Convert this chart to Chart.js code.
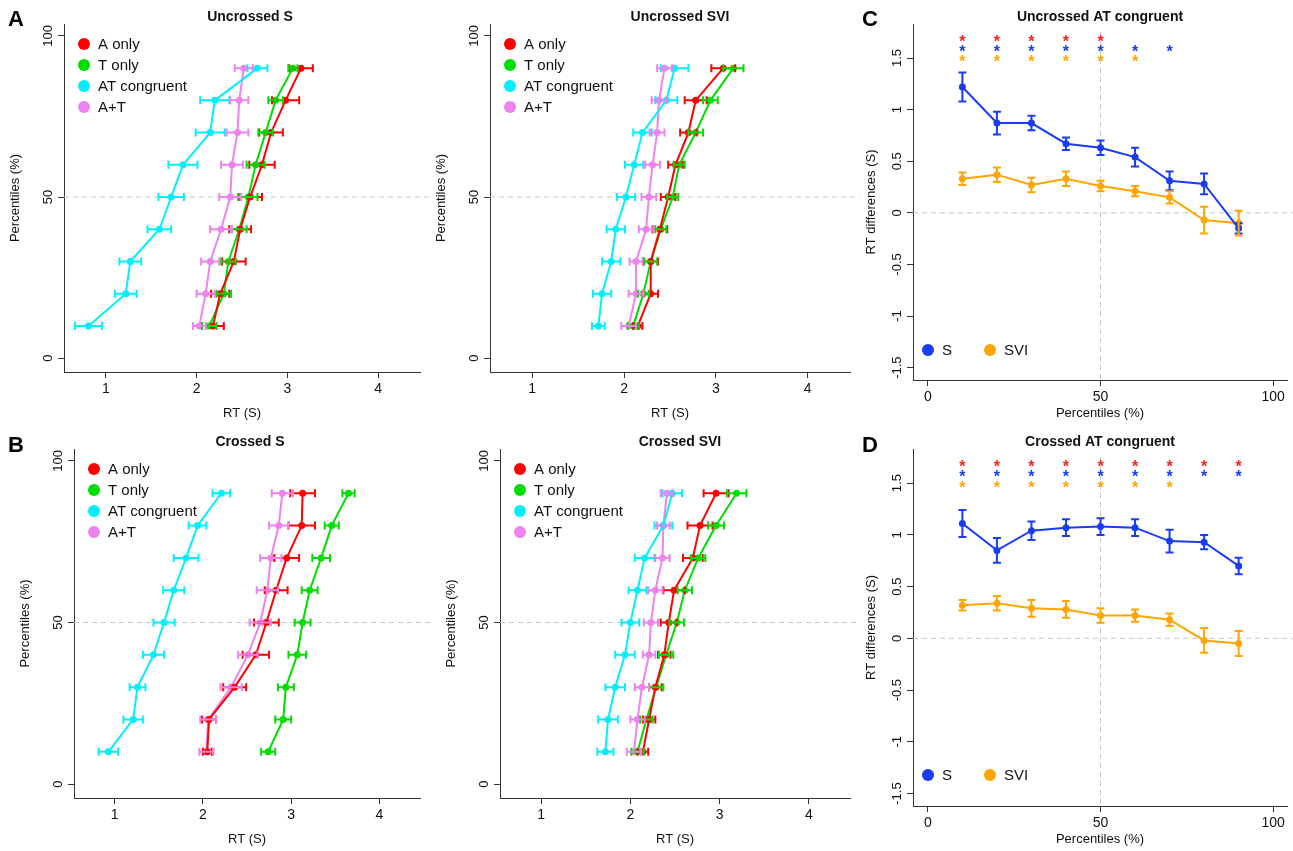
<!DOCTYPE html>
<html>
<head>
<meta charset="utf-8">
<script src="https://cdn.jsdelivr.net/npm/chart.js@4"></script>
<style>
body { margin: 0; background: #fff; font-family: "Liberation Sans", Arial, sans-serif; }
#wrap { position: relative; width: 1293px; height: 851px; }
.box { position: absolute; }
.lab { position: absolute; font-weight: bold; font-size: 22px; }
</style>
</head>
<body>
<div id="wrap">
  <div class="box" style="left:0;top:0;width:430px;height:425px"><canvas id="c1"></canvas></div>
  <div class="box" style="left:430px;top:0;width:430px;height:425px"><canvas id="c2"></canvas></div>
  <div class="box" style="left:860px;top:0;width:433px;height:425px"><canvas id="c3"></canvas></div>
  <div class="box" style="left:0;top:425px;width:430px;height:426px"><canvas id="c4"></canvas></div>
  <div class="box" style="left:430px;top:425px;width:430px;height:426px"><canvas id="c5"></canvas></div>
  <div class="box" style="left:860px;top:425px;width:433px;height:426px"><canvas id="c6"></canvas></div>
  <div class="lab" style="left:8px;top:6px">A</div>
  <div class="lab" style="left:8px;top:432px">B</div>
  <div class="lab" style="left:862px;top:6px">C</div>
  <div class="lab" style="left:862px;top:432px">D</div>
</div>
<script>
// Datos comunes
const percentiles = [10, 20, 30, 40, 50, 60, 70, 80, 90];
const condLabels = ["A only", "T only", "AT congruent", "A+T"];
const condColors = ["#ff0000", "#00dd00", "#00f0ff", "#ee82ee"];

// Uncrossed S (RT en segundos, percentil 10..90)
const usA = [2.18, 2.26, 2.41, 2.48, 2.59, 2.72, 2.82, 2.98, 3.15];
const usT = [2.14, 2.30, 2.35, 2.47, 2.57, 2.65, 2.76, 2.87, 3.06];
const usAT = [0.81, 1.22, 1.27, 1.59, 1.72, 1.85, 2.15, 2.20, 2.67];
const usApT = [2.03, 2.10, 2.15, 2.27, 2.37, 2.39, 2.45, 2.47, 2.52];
const usAErr = [0.12, 0.10, 0.13, 0.12, 0.13, 0.14, 0.13, 0.15, 0.13];
const usTErr = [0.08, 0.08, 0.08, 0.08, 0.10, 0.10, 0.08, 0.08, 0.05];
const usATErr = [0.15, 0.12, 0.12, 0.13, 0.14, 0.16, 0.16, 0.16, 0.11];
const usApTErr = [0.07, 0.10, 0.10, 0.12, 0.12, 0.12, 0.12, 0.10, 0.10];

// Uncrossed SVI
const uvA = [2.15, 2.29, 2.29, 2.39, 2.48, 2.56, 2.70, 2.78, 3.08];
const uvT = [2.10, 2.21, 2.29, 2.40, 2.53, 2.60, 2.78, 2.94, 3.19];
const uvAT = [1.72, 1.76, 1.86, 1.91, 2.02, 2.11, 2.20, 2.46, 2.55];
const uvApT = [2.05, 2.13, 2.13, 2.24, 2.27, 2.31, 2.36, 2.38, 2.44];
const uvAErr = [0.05, 0.08, 0.08, 0.08, 0.08, 0.08, 0.09, 0.12, 0.13];
const uvTErr = [0.06, 0.06, 0.07, 0.06, 0.06, 0.06, 0.08, 0.08, 0.11];
const uvATErr = [0.07, 0.10, 0.10, 0.10, 0.10, 0.10, 0.10, 0.12, 0.15];
const uvApTErr = [0.08, 0.08, 0.07, 0.08, 0.08, 0.08, 0.08, 0.08, 0.08];

// Crossed S
const csA = [2.05, 2.07, 2.36, 2.60, 2.72, 2.83, 2.95, 3.12, 3.13];
const csT = [2.74, 2.91, 2.94, 3.07, 3.13, 3.21, 3.34, 3.46, 3.65];
const csAT = [0.93, 1.21, 1.26, 1.44, 1.56, 1.67, 1.81, 1.94, 2.21];
const csApT = [2.04, 2.06, 2.32, 2.51, 2.65, 2.73, 2.77, 2.86, 2.90];
const csAErr = [0.05, 0.08, 0.13, 0.15, 0.14, 0.13, 0.14, 0.15, 0.14];
const csTErr = [0.08, 0.09, 0.09, 0.10, 0.09, 0.09, 0.10, 0.08, 0.07];
const csATErr = [0.11, 0.11, 0.09, 0.12, 0.12, 0.12, 0.14, 0.10, 0.10];
const csApTErr = [0.08, 0.09, 0.12, 0.11, 0.12, 0.12, 0.12, 0.11, 0.12];

// Crossed SVI
const cvA = [2.14, 2.21, 2.28, 2.38, 2.43, 2.49, 2.70, 2.78, 2.96];
const cvT = [2.08, 2.18, 2.29, 2.40, 2.52, 2.61, 2.76, 2.96, 3.19];
const cvAT = [1.72, 1.75, 1.83, 1.94, 2.00, 2.08, 2.16, 2.37, 2.47];
const cvApT = [2.04, 2.08, 2.13, 2.21, 2.23, 2.28, 2.36, 2.37, 2.41];
const cvAErr = [0.06, 0.07, 0.07, 0.07, 0.09, 0.12, 0.11, 0.14, 0.14];
const cvTErr = [0.07, 0.07, 0.08, 0.08, 0.08, 0.08, 0.08, 0.09, 0.11];
const cvATErr = [0.09, 0.11, 0.11, 0.11, 0.10, 0.10, 0.11, 0.10, 0.11];
const cvApTErr = [0.08, 0.08, 0.08, 0.07, 0.08, 0.08, 0.08, 0.07, 0.07];

// Diferencias de RT (C, D)
const diffLabels = ["S", "SVI"];
const diffColors = ["#1a3cf5", "#ffa500"];
const ucS = [1.22, 0.87, 0.87, 0.67, 0.63, 0.54, 0.31, 0.28, -0.15];
const ucSVI = [0.33, 0.37, 0.27, 0.33, 0.26, 0.21, 0.15, -0.07, -0.10];
const ucSErr = [0.14, 0.11, 0.07, 0.06, 0.07, 0.09, 0.09, 0.10, 0.05];
const ucSVIErr = [0.06, 0.07, 0.07, 0.07, 0.05, 0.05, 0.06, 0.13, 0.12];
const crS = [1.11, 0.85, 1.04, 1.07, 1.08, 1.07, 0.94, 0.93, 0.70];
const crSVI = [0.32, 0.34, 0.29, 0.28, 0.22, 0.22, 0.18, -0.02, -0.05];
const crSErr = [0.13, 0.12, 0.09, 0.08, 0.08, 0.08, 0.11, 0.07, 0.08];
const crSVIErr = [0.05, 0.07, 0.08, 0.08, 0.07, 0.06, 0.06, 0.12, 0.12];
// Asteriscos de significancia (percentiles)
const ucStarsRed = [10, 20, 30, 40, 50];
const ucStarsBlue = [10, 20, 30, 40, 50, 60, 70];
const ucStarsOrange = [10, 20, 30, 40, 50, 60];
const crStarsRed = [10, 20, 30, 40, 50, 60, 70, 80, 90];
const crStarsBlue = [10, 20, 30, 40, 50, 60, 70, 80, 90];
const crStarsOrange = [10, 20, 30, 40, 50, 60, 70];
const starColors = ["#ff2020", "#1a3cf5", "#ffa500"];

const FONT = "Liberation Sans, Arial, sans-serif";

// Plugin: barras de error, titulo, leyenda, lineas guia, etiquetas y rotadas
const extras = {
    id: "extras",
    beforeDatasetsDraw(chart) {
        const o = chart.options.plugins.extras;
        const ctx = chart.ctx, xs = chart.scales.x, ys = chart.scales.y;
        const a = chart.chartArea;
        ctx.save();
        ctx.strokeStyle = "#c8c8c8";
        ctx.lineWidth = 1;
        ctx.setLineDash([5, 4]);
        if (o.hline !== undefined) {
            const y = ys.getPixelForValue(o.hline);
            ctx.beginPath(); ctx.moveTo(a.left, y); ctx.lineTo(chart.width, y); ctx.stroke();
        }
        if (o.vline !== undefined) {
            const x = xs.getPixelForValue(o.vline);
            ctx.beginPath(); ctx.moveTo(x, a.top + 8); ctx.lineTo(x, a.bottom); ctx.stroke();
        }
        ctx.restore();
    },
    afterDatasetsDraw(chart) {
        const o = chart.options.plugins.extras;
        const ctx = chart.ctx, xs = chart.scales.x, ys = chart.scales.y;
        ctx.save();
        // barras de error
        chart.data.datasets.forEach((ds) => {
            ctx.strokeStyle = ds.borderColor;
            ctx.lineWidth = 2;
            ds.data.forEach((p, i) => {
                const e = ds.errs[i];
                ctx.beginPath();
                if (o.horizErr) {
                    const y = ys.getPixelForValue(p.y);
                    const x1 = xs.getPixelForValue(p.x - e), x2 = xs.getPixelForValue(p.x + e);
                    ctx.moveTo(x1, y); ctx.lineTo(x2, y);
                    ctx.moveTo(x1, y - 4); ctx.lineTo(x1, y + 4);
                    ctx.moveTo(x2, y - 4); ctx.lineTo(x2, y + 4);
                } else {
                    const x = xs.getPixelForValue(p.x);
                    const y1 = ys.getPixelForValue(p.y - e), y2 = ys.getPixelForValue(p.y + e);
                    ctx.moveTo(x, y1); ctx.lineTo(x, y2);
                    ctx.moveTo(x - 4, y1); ctx.lineTo(x + 4, y1);
                    ctx.moveTo(x - 4, y2); ctx.lineTo(x + 4, y2);
                }
                ctx.stroke();
            });
        });
        // asteriscos
        if (o.stars) {
            ctx.font = "bold 16px " + FONT;
            ctx.textAlign = "center";
            ctx.textBaseline = "middle";
            o.stars.forEach((row, r) => {
                ctx.fillStyle = starColors[r];
                row.forEach((p) => {
                    ctx.fillText("*", xs.getPixelForValue(p), ys.getPixelForValue(o.starY[r]) + 4);
                });
            });
        }
        // titulo
        ctx.fillStyle = "#111";
        ctx.font = "bold 14px " + FONT;
        ctx.textAlign = "center";
        ctx.textBaseline = "middle";
        ctx.fillText(o.title, o.titleX, 17);
        // etiquetas del eje y rotadas
        ctx.font = "13px " + FONT;
        o.yTicks.forEach((v) => {
            const y = ys.getPixelForValue(v);
            ctx.save();
            ctx.translate(ys.right - 16, y);
            ctx.rotate(-Math.PI / 2);
            ctx.fillText(String(v), 0, 0);
            ctx.restore();
        });
        // leyenda
        ctx.font = "15px " + FONT;
        ctx.textAlign = "left";
        chart.data.datasets.forEach((ds, i) => {
            const lx = o.legend.horiz ? o.legend.x + i * 62 : o.legend.x;
            const ly = o.legend.horiz ? o.legend.y : o.legend.y + i * 21;
            ctx.fillStyle = ds.borderColor;
            ctx.beginPath(); ctx.arc(lx, ly, 6, 0, Math.PI * 2); ctx.fill();
            ctx.fillStyle = "#111";
            ctx.fillText(ds.label, lx + 14, ly + 1);
        });
        ctx.restore();
    },
};
Chart.register(extras);

function makeDatasets(labels, colors, series, errs) {
    return series.map((s, k) => ({
        label: labels[k],
        data: s.map((v, i) => (errs.horiz ? { x: v, y: percentiles[i] } : { x: percentiles[i], y: v })),
        errs: errs.list[k],
        borderColor: colors[k],
        backgroundColor: colors[k],
        borderWidth: 2,
        pointRadius: 2.5,
        showLine: true,
    }));
}

function axisCommon() {
    return {
        grid: { drawOnChartArea: false, color: "#333", tickLength: 6, tickWidth: 1 },
        border: { color: "#333", width: 1 },
        title: { display: true, color: "#111", font: { size: 13, family: FONT } },
        ticks: { color: "#111", font: { size: 14, family: FONT } },
    };
}

const rtYTicks = [0, 50, 100];
const diffYTicks = [-1.5, -1, -0.5, 0, 0.5, 1, 1.5];

function rtChart(id, title, series, errs, padLeft) {
    const x = axisCommon();
    x.type = "linear"; x.min = 0.54; x.max = 4.46;
    x.title.text = "RT (S)";
    x.afterBuildTicks = (s) => { s.ticks = [1, 2, 3, 4].map((v) => ({ value: v })); };
    x.afterFit = (s) => { s.height = 53; };
    const y = axisCommon();
    y.type = "linear"; y.min = -4.3; y.max = 103.7;
    y.title.text = "Percentiles (%)";
    y.ticks.display = false;
    y.afterBuildTicks = (s) => { s.ticks = rtYTicks.map((v) => ({ value: v })); };
    y.afterFit = (s) => { s.width = 60; };
    new Chart(document.getElementById(id), {
        type: "scatter",
        data: { datasets: makeDatasets(condLabels, condColors, series, { horiz: true, list: errs }) },
        options: {
            responsive: true, maintainAspectRatio: false, animation: false,
            layout: { padding: { left: padLeft, top: 24, right: 10 } },
            scales: { x: x, y: y },
            plugins: {
                legend: { display: false }, tooltip: { enabled: false },
                extras: { title: title, titleX: 250, hline: 50, horizErr: true, yTicks: rtYTicks,
                          legend: { x: 80 + padLeft, y: 44 } },
            },
        },
    });
}

function diffChart(id, title, series, errs, stars) {
    const x = axisCommon();
    x.type = "linear"; x.min = -4.3; x.max = 104;
    x.title.text = "Percentiles (%)";
    x.afterBuildTicks = (s) => { s.ticks = [0, 50, 100].map((v) => ({ value: v })); };
    x.afterFit = (s) => { s.height = 45; };
    const y = axisCommon();
    y.type = "linear"; y.min = -1.62; y.max = 1.83;
    y.title.text = "RT differences (S)";
    y.ticks.display = false;
    y.afterBuildTicks = (s) => { s.ticks = diffYTicks.map((v) => ({ value: v })); };
    y.afterFit = (s) => { s.width = 53; };
    new Chart(document.getElementById(id), {
        type: "scatter",
        data: { datasets: makeDatasets(diffLabels, diffColors, series, { horiz: false, list: errs }) },
        options: {
            responsive: true, maintainAspectRatio: false, animation: false,
            layout: { padding: { top: 24, right: 6 } },
            scales: { x: x, y: y },
            plugins: {
                legend: { display: false }, tooltip: { enabled: false },
                extras: {
                    title: title, titleX: 240, hline: 0, vline: 50, horizErr: false, yTicks: diffYTicks,
                    stars: stars, starY: [1.69, 1.59, 1.49],
                    legend: { x: 68, y: 350, horiz: true },
                },
            },
        },
    });
}

rtChart("c1", "Uncrossed S", [usA, usT, usAT, usApT], [usAErr, usTErr, usATErr, usApTErr], 4);
rtChart("c2", "Uncrossed SVI", [uvA, uvT, uvAT, uvApT], [uvAErr, uvTErr, uvATErr, uvApTErr], 0);
diffChart("c3", "Uncrossed AT congruent", [ucS, ucSVI], [ucSErr, ucSVIErr], [ucStarsRed, ucStarsBlue, ucStarsOrange]);
rtChart("c4", "Crossed S", [csA, csT, csAT, csApT], [csAErr, csTErr, csATErr, csApTErr], 14);
rtChart("c5", "Crossed SVI", [cvA, cvT, cvAT, cvApT], [cvAErr, cvTErr, cvATErr, cvApTErr], 10);
diffChart("c6", "Crossed AT congruent", [crS, crSVI], [crSErr, crSVIErr], [crStarsRed, crStarsBlue, crStarsOrange]);
</script>
</body>
</html>
